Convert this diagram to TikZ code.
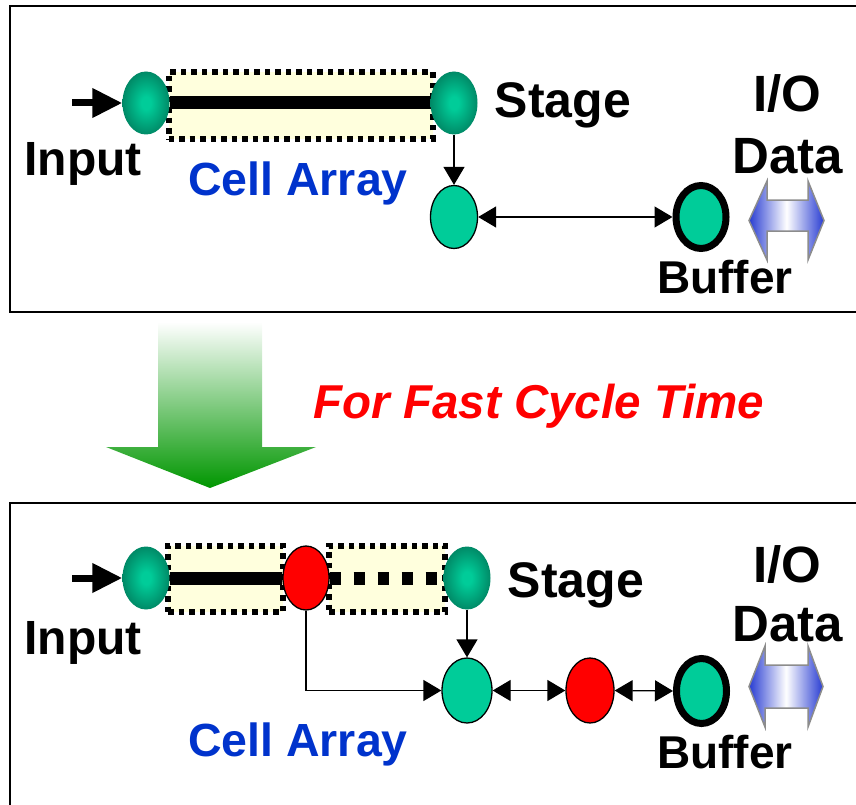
\documentclass[tikz,border=0pt]{standalone}
\usepackage{fontspec}
\setmainfont{Liberation Sans}
\usetikzlibrary{arrows.meta,shapes.geometric}
\definecolor{gin}{RGB}{0,204,153}
\definecolor{gmid}{RGB}{0,128,95}
\definecolor{gout}{RGB}{0,82,60}
\definecolor{tealfill}{RGB}{0,204,153}
\definecolor{cellyellow}{RGB}{255,255,221}
\definecolor{cellblue}{RGB}{0,51,204}
\definecolor{iob}{RGB}{40,60,210}
\definecolor{arrowgreen}{RGB}{0,150,0}
\definecolor{iogray}{RGB}{140,140,140}
\pgfdeclareradialshading{glow}{\pgfpoint{0bp}{0bp}}{color(0bp)=(gin); color(5bp)=(gin); color(28bp)=(gmid); color(50bp)=(gout)}
\tikzset{
  gball/.style={ellipse, inner sep=0pt, minimum width=47pt, minimum height=63pt, shading=glow},
  tball/.style={ellipse, inner sep=0pt, minimum width=47pt, minimum height=63pt, fill=tealfill, draw=black, line width=1.3pt},
  rball/.style={ellipse, inner sep=0pt, minimum width=46pt, minimum height=64pt, fill=red, draw=black, line width=1.3pt},
  bufball/.style={ellipse, inner sep=0pt, minimum width=50pt, minimum height=63pt, fill=tealfill, draw=black, line width=7pt},
  cellbox/.style={rectangle, inner sep=0pt, fill=cellyellow, draw=black, line width=6pt, dash pattern=on 5.5pt off 5pt},
  lbl/.style={font=\bfseries, anchor=base, inner sep=0pt},
  conn/.style={line width=1.3pt, -{Triangle[length=18pt,width=21pt]}},
  dconn/.style={line width=1.3pt, {Triangle[length=18pt,width=21pt]}-{Triangle[length=18pt,width=21pt]}},
  inarrow/.style={line width=7pt, -{Triangle[length=30pt,width=28pt]}},
  frame/.style={line width=2.5pt, draw=black},
  ioarrow/.style={left color=iob, right color=iob, middle color=white, draw=iogray, line width=1.5pt},
}
\begin{document}
\begin{tikzpicture}[x=1pt,y=1pt]
\useasboundingbox (0,0) rectangle (856,-805);
\clip (0,0) rectangle (856,-805);
% frames
\draw[frame] (10,-6) rectangle (880,-312);
\draw[frame] (10,-503) rectangle (880,-830);

% ---------- top panel ----------
\node[cellbox, minimum width=264pt, minimum height=67pt] (C1) at (300.5,-106) {};
\node[gball] (L1) at (146,-103) {};
\node[gball] (S1) at (454,-103) {};
\draw[line width=13pt] (L1.east) -- (S1.west);
\coordinate (in1) at (72,-103);
\draw[inarrow] (in1) -- (L1.west);
\node[tball] (M1) at (454,-217) {};
\node[bufball] (B1) at (701,-217) {};
\draw[conn] (S1.south) -- (M1.north);
\draw[dconn] (M1.east) -- (B1.west);
\path[ioarrow] (749,-220.5) -- (767,-181) -- (767,-200) -- (808,-200) -- (808,-181) -- (824,-220.5) -- (808,-260) -- (808,-231) -- (767,-231) -- (767,-260) -- cycle;
\node[lbl, font=\bfseries\fontsize{48}{50}\selectfont] (t1) at (83,-176) {Input};
\node[lbl, font=\bfseries\fontsize{50}{52}\selectfont] (t2) at (563,-118) {Stage};
\node[lbl, font=\bfseries\fontsize{46.5}{50}\selectfont, text=cellblue] (t3) at (298,-196) {Cell Array};
\node[lbl, font=\bfseries\fontsize{51}{52}\selectfont] (t4) at (787,-112) {I/O};
\node[lbl, font=\bfseries\fontsize{51}{52}\selectfont] (t5) at (788,-174) {Data};
\node[lbl, font=\bfseries\fontsize{46}{50}\selectfont] (t6) at (725,-293) {Buffer};

% ---------- middle ----------
\shade[top color=white, bottom color=arrowgreen] (158,-322) -- (262,-322) -- (262,-447) -- (316,-447) -- (210,-488) -- (106,-447) -- (158,-447) -- cycle;
\node[lbl, font=\bfseries\itshape\fontsize{47.5}{50}\selectfont, text=red] (t7) at (539,-418) {For Fast Cycle Time};

% ---------- bottom panel ----------
\node[cellbox, minimum width=115pt, minimum height=66pt] (C2) at (225.5,-578.5) {};
\node[cellbox, minimum width=116pt, minimum height=66pt] (C3) at (387,-578.5) {};
\node[gball] (L2) at (146,-578) {};
\node[rball] (R2) at (306,-578) {};
\node[gball] (S2) at (467,-578) {};
\draw[line width=13pt] (L2.east) -- (R2.west);
\draw[line width=13pt, dash pattern=on 11pt off 13pt] (R2.east) -- (S2.west);
\coordinate (in2) at (72,-578);
\draw[inarrow] (in2) -- (L2.west);
\node[tball, minimum width=50pt, minimum height=65pt] (M2) at (467,-690.5) {};
\node[rball, minimum width=48pt, minimum height=65pt] (R3) at (590,-690.5) {};
\node[bufball, minimum width=50pt, minimum height=65pt] (B2) at (701.5,-691) {};
\draw[conn] (S2.south) -- (M2.north);
\draw[conn] (R2.south) |- (M2.west);
\draw[dconn] (M2.east) -- (R3.west);
\draw[dconn] (R3.east) -- (B2.west);
\path[ioarrow] (749,-686.5) -- (765,-646) -- (765,-665) -- (808,-665) -- (808,-646) -- (823,-686.5) -- (808,-727) -- (808,-708) -- (765,-708) -- (765,-727) -- cycle;
\node[lbl, font=\bfseries\fontsize{48}{50}\selectfont] (u1) at (83,-654) {Input};
\node[lbl, font=\bfseries\fontsize{50}{52}\selectfont] (u2) at (576,-597) {Stage};
\node[lbl, font=\bfseries\fontsize{46.5}{50}\selectfont, text=cellblue] (u3) at (298,-756) {Cell Array};
\node[lbl, font=\bfseries\fontsize{51}{52}\selectfont] (u4) at (787,-582) {I/O};
\node[lbl, font=\bfseries\fontsize{51}{52}\selectfont] (u5) at (788,-641) {Data};
\node[lbl, font=\bfseries\fontsize{46}{50}\selectfont] (u6) at (725,-768) {Buffer};
\end{tikzpicture}
\end{document}
